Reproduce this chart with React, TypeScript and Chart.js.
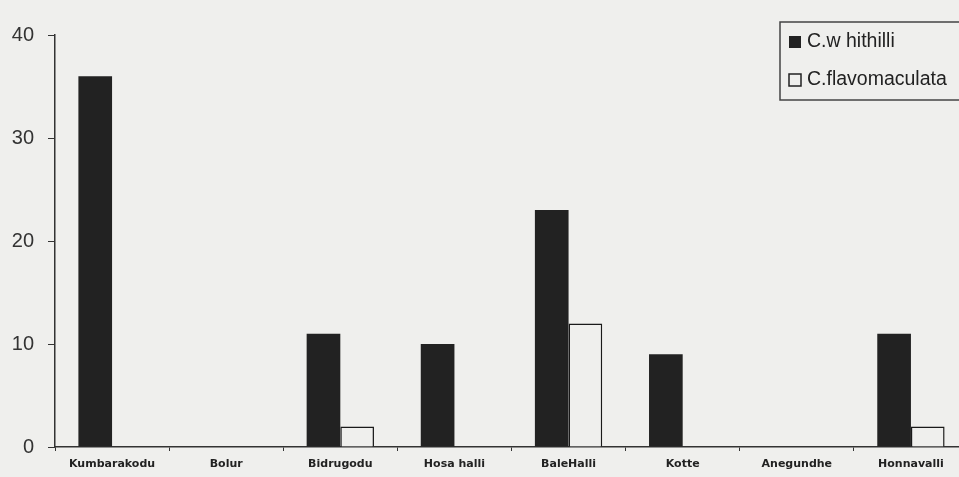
import React, { useEffect, useRef } from "react";
import { Chart, registerables } from "chart.js";

Chart.register(...registerables);

const categories = ["Kumbarakodu", "Bolur", "Bidrugodu", "Hosa halli", "BaleHalli", "Kotte", "Anegundhe", "Honnavalli"];
const seriesNames = ["C.w hithilli", "C.flavomaculata"];
const whithilli = [36, 0, 11, 10, 23, 9, 0, 11];
const flavomaculata = [0, 0, 2, 0, 12, 0, 0, 2];
const yTicks = [0, 10, 20, 30, 40];

const BG = "#efefed";
const DARK = "#222222";

const boxLegend = {
  id: "boxLegend",
  afterDraw(chart: any) {
    const ctx = chart.ctx;
    const x = 780, y = 22, w = 195, h = 78;
    ctx.save();
    ctx.strokeStyle = "#444";
    ctx.lineWidth = 1.5;
    ctx.strokeRect(x, y, w, h);
    ctx.font = "19.5px 'Liberation Sans', Arial, sans-serif";
    ctx.textBaseline = "middle";
    ctx.textAlign = "left";
    const rows = [42, 80];
    chart.data.datasets.forEach((ds: any, i: number) => {
      const cy = rows[i];
      if (i === 0) {
        ctx.fillStyle = DARK;
        ctx.fillRect(789, cy - 6, 12, 12);
      } else {
        ctx.fillStyle = BG;
        ctx.fillRect(789, cy - 6, 12, 12);
        ctx.strokeStyle = "#222";
        ctx.lineWidth = 1.5;
        ctx.strokeRect(789, cy - 6, 12, 12);
      }
      ctx.fillStyle = "#222";
      ctx.fillText(ds.label, 807, cy);
    });
    ctx.restore();
  },
};

export default function App() {
  const ref = useRef<HTMLCanvasElement>(null);
  useEffect(() => {
    const chart = new Chart(ref.current as HTMLCanvasElement, {
      type: "bar",
      data: {
        labels: categories,
        datasets: [
          {
            label: seriesNames[0],
            data: whithilli,
            backgroundColor: DARK,
            borderColor: DARK,
            borderWidth: 0,
            categoryPercentage: 0.59,
            barPercentage: 1.0,
          },
          {
            label: seriesNames[1],
            data: flavomaculata,
            backgroundColor: BG,
            borderColor: "#1a1a1a",
            borderWidth: 1.5,
            categoryPercentage: 0.59,
            barPercentage: 1.0,
          },
        ],
      },
      options: {
        animation: false,
        responsive: false,
        maintainAspectRatio: false,
        layout: { padding: { top: 35, right: 0, left: 0, bottom: 0 } },
        plugins: {
          legend: { display: false },
          tooltip: { enabled: false },
        },
        scales: {
          x: {
            grid: { display: true, drawOnChartArea: false, drawTicks: true, tickLength: 4, color: "#333", offset: true },
            border: { display: true, color: "#333", width: 1.5 },
            ticks: {
              color: "#222",
              font: { family: "'DejaVu Sans', sans-serif", size: 11, weight: "bold" },
              padding: 7,
              maxRotation: 0,
              autoSkip: false,
            },
            afterFit(scale: any) {
              scale.height = 30;
            },
          },
          y: {
            min: 0,
            max: 40,
            afterBuildTicks(scale: any) {
              scale.ticks = yTicks.map((v) => ({ value: v }));
            },
            grid: { display: true, drawOnChartArea: false, drawTicks: true, tickLength: 7, color: "#333" },
            border: { display: true, color: "#333", width: 1.5 },
            ticks: {
              color: "#333",
              font: { family: "'Liberation Sans', Arial, sans-serif", size: 20 },
              padding: 14,
            },
            afterFit(scale: any) {
              scale.width = 55;
            },
          },
        },
      },
      plugins: [boxLegend],
    } as any);
    return () => chart.destroy();
  }, []);
  return (
    <div style={{ position: "fixed", left: 0, top: 0, width: 959, height: 477, overflow: "hidden", background: BG }}>
      <canvas ref={ref} width={968} height={477} style={{ display: "block", width: 968, height: 477 }} />
    </div>
  );
}
